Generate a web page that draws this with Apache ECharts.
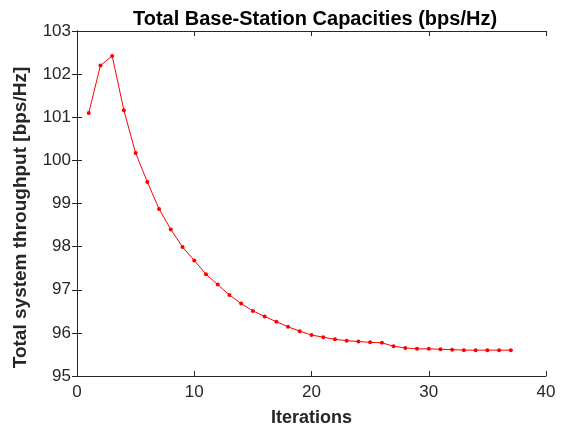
<!DOCTYPE html>
<html>
<head>
<meta charset="utf-8">
<script src="https://cdn.jsdelivr.net/npm/echarts@6/dist/echarts.min.js"></script>
<style>
  html, body { margin: 0; padding: 0; background: #fff; }
  #chart { width: 567px; height: 429px; }
</style>
</head>
<body>
<div id="chart"></div>
<script>
  // iterations and total capacity
  var iterations = [1, 2, 3, 4, 5, 6, 7, 8, 9, 10, 11, 12, 13, 14, 15, 16, 17, 18, 19, 20,
    21, 22, 23, 24, 25, 26, 27, 28, 29, 30, 31, 32, 33, 34, 35, 36, 37]
  var throughput = [101.10, 102.20, 102.42, 101.16, 100.17, 99.50, 98.87, 98.40, 97.99, 97.68,
    97.36, 97.12, 96.88, 96.68, 96.51, 96.38, 96.26, 96.14, 96.04, 95.95,
    95.90, 95.85, 95.82, 95.80, 95.78, 95.77, 95.69, 95.65, 95.63, 95.63,
    95.62, 95.61, 95.60, 95.60, 95.60, 95.60, 95.60]
  var xTicks = [0, 10, 20, 30, 40]
  var yTicks = [95, 96, 97, 98, 99, 100, 101, 102, 103]

  var font = 'Liberation Sans, Arial, sans-serif'
  var chart = echarts.init(document.getElementById('chart'))

  var axisLine = { show: true, lineStyle: { color: '#262626', width: 1 } }
  var tick = { show: true, inside: true, length: 5, lineStyle: { color: '#262626' } }

  chart.setOption({
    animation: false,
    title: {
      text: 'Total Base-Station Capacities (bps/Hz)',
      left: 310,
      textAlign: 'center',
      top: 4,
      textStyle: { fontFamily: font, fontSize: 20, fontWeight: 'bold', color: '#000' }
    },
    grid: { left: 77, right: 21, top: 31, bottom: 53, containLabel: false, outerBoundsMode: 'none' },
    xAxis: [{
      type: 'value',
      min: xTicks[0],
      max: xTicks[xTicks.length - 1],
      interval: 10,
      name: 'Iterations',
      nameLocation: 'middle',
      nameGap: 33,
      nameTextStyle: { fontFamily: font, fontSize: 18, fontWeight: 'bold', color: '#262626' },
      axisLine: axisLine,
      axisTick: tick,
      axisLabel: { fontFamily: font, fontSize: 17, color: '#262626', margin: 8 },
      splitLine: { show: false }
    }, {
      type: 'value',
      position: 'top',
      min: xTicks[0],
      max: xTicks[xTicks.length - 1],
      interval: 10,
      axisLine: axisLine,
      axisTick: tick,
      axisLabel: { show: false },
      splitLine: { show: false }
    }],
    yAxis: [{
      type: 'value',
      min: yTicks[0],
      max: yTicks[yTicks.length - 1],
      interval: 1,
      name: 'Total system throughput [bps/Hz]',
      nameLocation: 'middle',
      nameGap: 47,
      nameTextStyle: { fontFamily: font, fontSize: 19, fontWeight: 'bold', color: '#262626', padding: [0, 28, 0, 0] },
      axisLine: axisLine,
      axisTick: tick,
      axisLabel: { fontFamily: font, fontSize: 17, color: '#262626', margin: 6 },
      splitLine: { show: false }
    }, {
      type: 'value',
      position: 'right',
      min: yTicks[0],
      max: yTicks[yTicks.length - 1],
      interval: 1,
      axisLine: axisLine,
      axisTick: tick,
      axisLabel: { show: false },
      splitLine: { show: false }
    }],
    series: [{
      type: 'line',
      data: iterations.map(function (x, i) { return [x, throughput[i]] }),
      symbol: 'circle',
      symbolSize: 4,
      itemStyle: { color: '#ff0000' },
      lineStyle: { color: '#ff0000', width: 1 }
    }]
  })
</script>
</body>
</html>
